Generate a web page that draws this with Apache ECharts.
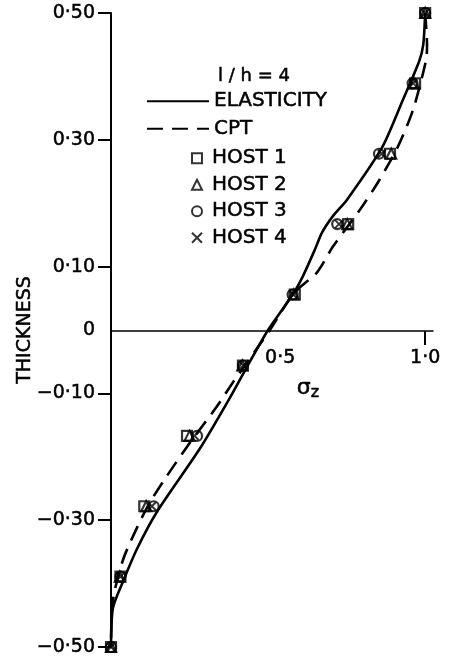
<!DOCTYPE html>
<html>
<head>
<meta charset="utf-8">
<script src="https://cdn.jsdelivr.net/npm/echarts@6/dist/echarts.min.js"></script>
<style>
  html, body { margin: 0; padding: 0; background: #fff; }
  #chart { width: 450px; height: 657px; }
</style>
</head>
<body>
<div id="chart"></div>
<script>
// Through-thickness positions where the HOST results are sampled
const thickness = [0.5, 0.389, 0.278, 0.167, 0.056, -0.056, -0.167, -0.278, -0.389, -0.5];

// Normal stress sigma_z at those positions for each HOST element
const host1 = [1.0, 0.968, 0.888, 0.755, 0.585, 0.42, 0.242, 0.106, 0.03, 0.0];
const host2 = [1.0, 0.965, 0.892, 0.752, 0.582, 0.418, 0.250, 0.112, 0.028, 0.0];
const host3 = [1.0, 0.960, 0.853, 0.720, 0.578, 0.420, 0.274, 0.136, 0.030, 0.0];
const host4 = [1.0, 0.962, 0.862, 0.726, 0.580, 0.421, 0.266, 0.130, 0.030, 0.0];

// Elasticity solution: sigma_z and thickness coordinate
const elasticitySigma = [1.0, 0.994, 0.981, 0.93, 0.863, 0.752, 0.707, 0.672, 0.65, 0.611, 0.58, 0.5, 0.433, 0.376, 0.283, 0.146, 0.083, 0.038, 0.006, 0.0];
const elasticityZ     = [0.5, 0.45, 0.424, 0.364, 0.288, 0.206, 0.18, 0.154, 0.128, 0.085, 0.057, 0.0, -0.058, -0.109, -0.187, -0.287, -0.345, -0.397, -0.439, -0.5];

// Classical plate theory (CPT) solution
const cptSigma = [1.0, 1.006, 1.003, 0.962, 0.914, 0.85, 0.793, 0.707, 0.656, 0.58, 0.506, 0.389, 0.338, 0.245, 0.166, 0.118, 0.075, 0.04, 0.013, 0.003, 0.0];
const cptZ     = [0.5, 0.45, 0.426, 0.348, 0.29, 0.233, 0.19, 0.132, 0.091, 0.057, 0.0, -0.082, -0.12, -0.182, -0.239, -0.277, -0.32, -0.36, -0.408, -0.439, -0.5];

// Axis labels
const yTickValues = [0.5, 0.3, 0.1, -0.1, -0.3, -0.5];
const yLabelValues = [0.5, 0.3, 0.1, 0, -0.1, -0.3, -0.5];
const yLabelText = ['0·50', '0·30', '0·10', '0', '−0·10', '−0·30', '−0·50'];
const xTickValues = [1.0];
const xLabelValues = [0.5, 1.0];
const xLabelText = ['    0·5', '1·0'];

const SIGMA_MIN = 0, SIGMA_MAX = 1.025;
const Z_MIN = -0.5, Z_MAX = 0.5;

const FONT = 'DejaVu Sans';
const pairs = (xs, ys) => xs.map((x, i) => [x, ys[i]]);
const lookup = (vals, texts) => v => {
  const n = Number(v);
  for (let i = 0; i < vals.length; i++) {
    if (Math.abs(vals[i] - n) < 1e-6) return texts[i];
  }
  return '';
};

const ink = { color: '#000', textBorderColor: '#000', textBorderWidth: 0.5 };
const hollow = { color: 'rgba(0,0,0,0)', borderColor: '#000', borderWidth: 2.2 };

const chart = echarts.init(document.getElementById('chart'), null, { renderer: 'canvas' });

chart.setOption({
  backgroundColor: '#fff',
  animation: false,
  title: {
    text: 'l / h = 4',
    left: 213,
    top: 62,
    textStyle: Object.assign({ fontFamily: FONT, fontSize: 18, fontWeight: 'normal' }, ink)
  },
  legend: [
    {
      orient: 'vertical',
      left: 141,
      top: 86,
      itemWidth: 62,
      itemHeight: 14,
      itemGap: 7,
      data: [
        { name: 'ELASTICITY', itemStyle: { opacity: 0 } },
        { name: 'CPT', itemStyle: { opacity: 0 } }
      ],
      textStyle: Object.assign({ fontFamily: FONT, fontSize: 20, lineHeight: 20 }, ink)
    },
    {
      orient: 'vertical',
      left: 186,
      top: 143,
      itemWidth: 10,
      itemHeight: 10,
      itemGap: 6,
      data: ['HOST 1', 'HOST 2', 'HOST 3', 'HOST 4'],
      textStyle: Object.assign({ fontFamily: FONT, fontSize: 20, lineHeight: 20, padding: [0, 0, 0, 5] }, ink)
    }
  ],
  grid: [
    // full plotting area
    { left: 111, right: 17, top: 13, bottom: 10, containLabel: false, outerBoundsMode: 'none' },
    // upper half: its bottom edge carries the sigma_z axis at thickness 0
    { left: 111, right: 17, top: 13, bottom: 326, containLabel: false, outerBoundsMode: 'none' }
  ],
  xAxis: [
    {
      gridIndex: 0,
      type: 'value',
      min: SIGMA_MIN,
      max: SIGMA_MAX,
      show: false
    },
    {
      gridIndex: 1,
      type: 'value',
      position: 'bottom',
      min: SIGMA_MIN,
      max: SIGMA_MAX,
      name: 'σ{z|z}',
      nameLocation: 'middle',
      nameGap: 44,
      nameMoveOverlap: false,
      nameTextStyle: Object.assign({
        fontFamily: FONT,
        fontSize: 22,
        padding: [0, 0, 0, 72],
        rich: {
          z: { fontFamily: FONT, fontSize: 16, color: '#000', textBorderColor: '#000', textBorderWidth: 0.5, padding: [10, 0, 0, 0] }
        }
      }, ink),
      axisLine: { onZero: false, lineStyle: { color: '#000', width: 1.5 } },
      axisTick: { show: true, customValues: xTickValues, length: 14, lineStyle: { color: '#000', width: 2 } },
      axisLabel: Object.assign({
        show: true,
        customValues: xLabelValues,
        margin: 18,
        fontFamily: FONT,
        fontSize: 19,
        formatter: lookup(xLabelValues, xLabelText)
      }, ink),
      splitLine: { show: false }
    }
  ],
  yAxis: [
    {
      gridIndex: 0,
      type: 'value',
      min: Z_MIN,
      max: Z_MAX,
      name: 'THICKNESS',
      nameLocation: 'middle',
      nameGap: 76,
      nameMoveOverlap: false,
      nameTextStyle: Object.assign({ fontFamily: FONT, fontSize: 19 }, ink),
      axisLine: { onZero: false, lineStyle: { color: '#000', width: 2 } },
      axisTick: { show: true, customValues: yTickValues, length: 13, lineStyle: { color: '#000', width: 2 } },
      axisLabel: Object.assign({
        customValues: yLabelValues,
        margin: 16,
        fontFamily: FONT,
        fontSize: 19,
        formatter: lookup(yLabelValues, yLabelText)
      }, ink),
      splitLine: { show: false }
    },
    {
      gridIndex: 1,
      type: 'value',
      min: 0,
      max: Z_MAX,
      show: false
    }
  ],
  series: [
    {
      name: 'ELASTICITY',
      type: 'line',
      data: pairs(elasticitySigma, elasticityZ),
      smooth: 0.25,
      symbol: 'none',
      lineStyle: { color: '#000', width: 2.6, type: 'solid' },
      itemStyle: { color: '#000' },
      z: 2
    },
    {
      name: 'CPT',
      type: 'line',
      data: pairs(cptSigma, cptZ),
      smooth: 0.25,
      symbol: 'none',
      lineStyle: { color: '#000', width: 2.6, type: [16, 9] },
      itemStyle: { color: '#000' },
      z: 2
    },
    {
      name: 'HOST 1',
      type: 'scatter',
      symbol: 'rect',
      symbolSize: 10,
      data: pairs(host1, thickness),
      itemStyle: hollow,
      z: 3
    },
    {
      name: 'HOST 2',
      type: 'scatter',
      symbol: 'triangle',
      symbolSize: 10,
      data: pairs(host2, thickness),
      itemStyle: hollow,
      z: 3
    },
    {
      name: 'HOST 3',
      type: 'scatter',
      symbol: 'circle',
      symbolSize: 10,
      data: pairs(host3, thickness),
      itemStyle: hollow,
      z: 3
    },
    {
      name: 'HOST 4',
      type: 'scatter',
      symbol: 'path://M0,0L10,10M10,0L0,10',
      symbolSize: 8,
      data: pairs(host4, thickness),
      itemStyle: { color: 'rgba(0,0,0,0)', borderColor: '#000', borderWidth: 2 },
      z: 3
    }
  ]
});
</script>
</body>
</html>
